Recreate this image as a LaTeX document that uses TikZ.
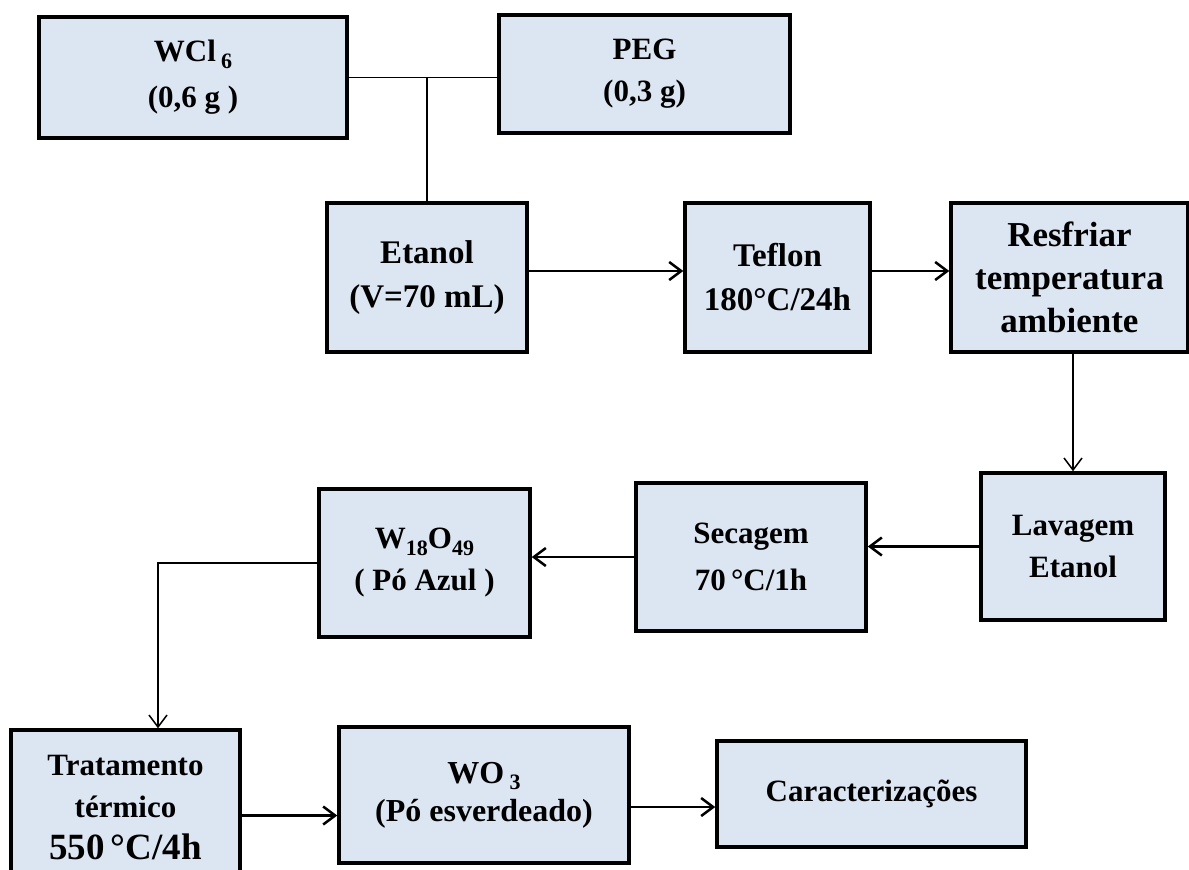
\documentclass[tikz,border=0pt]{standalone}
\usepackage{fontspec}
\setmainfont{Liberation Serif}
\usetikzlibrary{arrows.meta}

\definecolor{azulclaro}{RGB}{220,230,242}
\newcommand{\indice}[1]{\raisebox{-0.45ex}{\fontsize{22}{22}\selectfont #1}}

\begin{document}
\begin{tikzpicture}[
		x=1pt, y=-1pt,
		caixa/.style={draw, rectangle, line width=3.5pt, fill=azulclaro, align=center, inner sep=0pt,
			font=\fontsize{31}{42}\selectfont\bfseries},
		seta/.style={-{Straight Barb[length=12pt, width=18pt]}, line width=2.5pt},
		setafina/.style={-{Straight Barb[length=12pt, width=18pt]}, line width=1.5pt},
		linha/.style={line width=1.5pt}
	]

	\useasboundingbox (0,0) rectangle (1189,870);

	% Reagentes
	\node[caixa, minimum width=308pt, minimum height=121pt, font=\fontsize{31}{46}\selectfont\bfseries] (wcl) at (193,77.5) {WCl\,\indice{6}\\(0,6 g )};
	\node[caixa, minimum width=291pt, minimum height=118pt] (peg) at (644.5,74) {PEG\\(0,3 g)};

	% Primeira linha
	\node[caixa, minimum width=200pt, minimum height=149pt, font=\fontsize{33}{44}\selectfont\bfseries] (etanol) at (427,277.5) {Etanol\\(V=70 mL)};
	\node[caixa, minimum width=185pt, minimum height=149pt, font=\fontsize{33}{44}\selectfont\bfseries] (teflon) at (777.5,277.5) {Teflon\\180°C/24h};
	\node[caixa, minimum width=237pt, minimum height=149pt, font=\fontsize{35}{43}\selectfont\bfseries] (resfriar) at (1069.5,277.5) {Resfriar\\temperatura\\ambiente};

	% Segunda linha
	\node[caixa, minimum width=184pt, minimum height=147pt] (lavagem) at (1073,546.5) {Lavagem\\Etanol};
	\node[caixa, minimum width=230pt, minimum height=148pt, font=\fontsize{31}{47}\selectfont\bfseries] (secagem) at (751,557) {Secagem\\70\,°C/1h};
	\node[caixa, minimum width=211pt, minimum height=148pt] (w18) at (424.5,563) {W\indice{18}O\indice{49}\\( Pó Azul )};

	% Terceira linha
	\node[caixa, minimum width=229pt, minimum height=155pt] (tratamento) at (125.5,807.5) {Tratamento\\térmico\\{\fontsize{37}{46}\selectfont 550\,°C/4h}};
	\node[caixa, minimum width=290pt, minimum height=136pt, font=\fontsize{32}{38}\selectfont\bfseries] (wo3) at (484,795) {WO\,\indice{3}\\(Pó esverdeado)};
	\node[caixa, minimum width=309pt, minimum height=106pt] (caract) at (871.5,794) {Caracterizações};

	% Ligacoes
	\draw[linha] (wcl.east) -- (peg.west |- wcl.east);
	\draw[linha] (etanol.north) -- (etanol.north |- wcl.east);
	\draw[seta] ([yshift=6.5pt]etanol.east) -- ([yshift=6.5pt]teflon.west);
	\draw[seta] ([yshift=6.5pt]teflon.east) -- ([yshift=6.5pt]resfriar.west);
	\draw[setafina] (lavagem.north |- resfriar.south) -- (lavagem.north);
	\draw[seta] (lavagem.west) -- (secagem.east |- lavagem.west);
	\draw[seta] (secagem.west) -- (w18.east |- secagem.west);
	\draw[setafina] (w18.west) -| ([xshift=32.5pt]tratamento.north);
	\draw[seta] ([yshift=-8pt]tratamento.east) -- ([yshift=-8pt]tratamento.east -| wo3.west);
	\draw[seta] ([yshift=-12pt]wo3.east) -- ([yshift=-12pt]wo3.east -| caract.west);

\end{tikzpicture}
\end{document}
